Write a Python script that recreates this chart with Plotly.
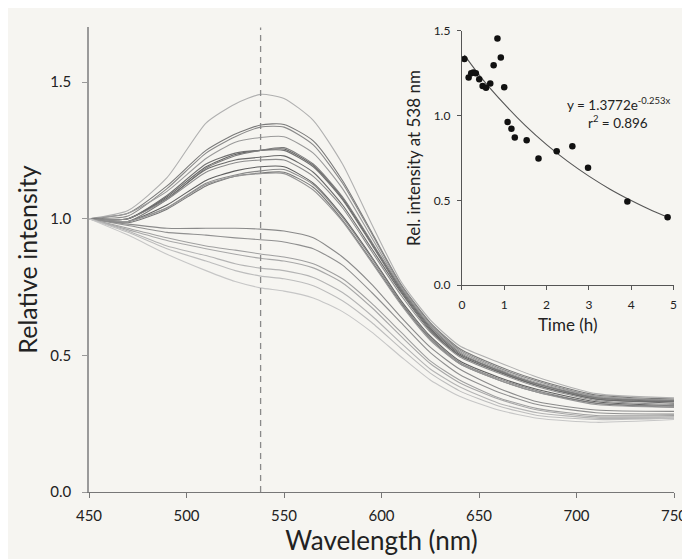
import plotly.graph_objects as go

# ---------------- data ----------------
wavelengths = [450, 470, 490, 510, 525, 538, 550, 565, 580, 595, 610, 625, 640, 660, 680, 710, 750]

spec_a = [1.00, 1.03, 1.15, 1.35, 1.42, 1.455, 1.44, 1.36, 1.20, 0.98, 0.77, 0.63, 0.535, 0.475, 0.42, 0.36, 0.345]
spec_b = [1.00, 1.02, 1.12, 1.25, 1.31, 1.343, 1.345, 1.285, 1.14, 0.95, 0.76, 0.62, 0.525, 0.46, 0.41, 0.355, 0.34]
spec_c = [1.00, 1.01, 1.11, 1.24, 1.30, 1.335, 1.335, 1.27, 1.13, 0.945, 0.755, 0.615, 0.52, 0.455, 0.405, 0.35, 0.335]
spec_d = [1.00, 1.02, 1.10, 1.22, 1.28, 1.297, 1.30, 1.24, 1.11, 0.93, 0.75, 0.61, 0.515, 0.45, 0.40, 0.35, 0.335]
spec_e = [1.00, 1.00, 1.08, 1.19, 1.235, 1.25, 1.255, 1.195, 1.075, 0.91, 0.74, 0.60, 0.505, 0.445, 0.395, 0.345, 0.33]
spec_f = [1.00, 1.00, 1.085, 1.20, 1.24, 1.25, 1.25, 1.19, 1.07, 0.905, 0.735, 0.595, 0.50, 0.44, 0.39, 0.34, 0.33]
spec_g = [1.00, 0.99, 1.07, 1.185, 1.23, 1.25, 1.26, 1.20, 1.08, 0.915, 0.745, 0.605, 0.51, 0.445, 0.395, 0.345, 0.335]
spec_h = [1.00, 1.00, 1.075, 1.18, 1.215, 1.225, 1.23, 1.17, 1.05, 0.89, 0.73, 0.59, 0.50, 0.44, 0.39, 0.34, 0.325]
spec_i = [1.00, 1.00, 1.07, 1.17, 1.205, 1.215, 1.215, 1.155, 1.04, 0.88, 0.72, 0.585, 0.495, 0.435, 0.385, 0.335, 0.32]
spec_j = [1.00, 0.99, 1.05, 1.14, 1.175, 1.19, 1.19, 1.13, 1.01, 0.86, 0.70, 0.57, 0.48, 0.42, 0.375, 0.33, 0.315]
spec_k = [1.00, 0.99, 1.04, 1.13, 1.16, 1.175, 1.18, 1.125, 1.005, 0.855, 0.695, 0.565, 0.475, 0.415, 0.37, 0.325, 0.315]
spec_l = [1.00, 0.985, 1.035, 1.12, 1.155, 1.167, 1.17, 1.115, 0.995, 0.845, 0.69, 0.56, 0.47, 0.41, 0.365, 0.325, 0.31]
spec_m = [1.00, 0.99, 1.04, 1.125, 1.155, 1.165, 1.165, 1.105, 0.99, 0.84, 0.685, 0.555, 0.47, 0.41, 0.365, 0.32, 0.31]
spec_n = [1.00, 0.98, 0.965, 0.965, 0.965, 0.962, 0.955, 0.93, 0.86, 0.76, 0.64, 0.53, 0.45, 0.38, 0.33, 0.30, 0.295]
spec_o = [1.00, 0.975, 0.95, 0.94, 0.93, 0.923, 0.915, 0.89, 0.83, 0.73, 0.62, 0.51, 0.43, 0.365, 0.32, 0.29, 0.285]
spec_p = [1.00, 0.965, 0.93, 0.90, 0.885, 0.871, 0.86, 0.835, 0.78, 0.69, 0.585, 0.48, 0.41, 0.345, 0.305, 0.28, 0.28]
spec_q = [1.00, 0.96, 0.92, 0.89, 0.87, 0.855, 0.845, 0.82, 0.765, 0.675, 0.57, 0.47, 0.40, 0.34, 0.30, 0.275, 0.275]
spec_r = [1.00, 0.955, 0.90, 0.865, 0.835, 0.819, 0.81, 0.785, 0.73, 0.645, 0.545, 0.45, 0.385, 0.325, 0.29, 0.27, 0.27]
spec_s = [1.00, 0.95, 0.89, 0.845, 0.81, 0.79, 0.78, 0.755, 0.70, 0.62, 0.525, 0.435, 0.37, 0.315, 0.28, 0.265, 0.27]
spec_t = [1.00, 0.94, 0.87, 0.81, 0.77, 0.747, 0.735, 0.71, 0.66, 0.585, 0.495, 0.41, 0.35, 0.30, 0.27, 0.255, 0.265]

spectra = [spec_a, spec_b, spec_c, spec_d, spec_e, spec_f, spec_g, spec_h, spec_i, spec_j,
           spec_k, spec_l, spec_m, spec_n, spec_o, spec_p, spec_q, spec_r, spec_s, spec_t]
spectra_colors = ["#b0b0b0", "#7a7a7a", "#8a8a8a", "#9a9a9a", "#656565", "#707070", "#7c7c7c",
                  "#6a6a6a", "#8c8c8c", "#5f5f5f", "#8a8a8a", "#777777", "#969696",
                  "#8a8a8a", "#909090", "#a0a0a0", "#a8a8a8", "#b4b4b4", "#bdbdbd", "#c6c6c6"]

marker_wavelength = 538

time_h = [0.06, 0.16, 0.22, 0.27, 0.33, 0.41, 0.49, 0.57, 0.67, 0.75, 0.84, 0.92, 1.00,
          1.08, 1.17, 1.25, 1.53, 1.81, 2.24, 2.61, 2.98, 3.91, 4.86]
rel_int_538 = [1.335, 1.225, 1.25, 1.255, 1.25, 1.215, 1.175, 1.165, 1.19, 1.297, 1.455, 1.343,
               1.167, 0.962, 0.923, 0.871, 0.855, 0.747, 0.79, 0.819, 0.693, 0.494, 0.40]

fit_time = [0.06, 0.5, 1.0, 1.5, 2.0, 2.5, 3.0, 3.5, 4.0, 4.5, 4.86]
fit_values = [1.357, 1.211, 1.069, 0.941, 0.829, 0.730, 0.643, 0.566, 0.499, 0.439, 0.402]

main_xticks = [450, 500, 550, 600, 650, 700, 750]
main_yticks = [0.0, 0.5, 1.0, 1.5]
main_ytick_text = ["0.0", "0.5", "1.0", "1.5"]
inset_xticks = [0, 1, 2, 3, 4, 5]
inset_yticks = [0.0, 0.5, 1.0, 1.5]

# ---------------- figure ----------------
FONT = "Lato"
TXT = "#222222"
fig = go.Figure()

for spec, col in zip(spectra, spectra_colors):
    fig.add_trace(go.Scatter(x=wavelengths, y=spec, mode="lines",
                             line=dict(color=col, width=1.1, shape="spline", smoothing=0.6),
                             hoverinfo="skip", showlegend=False, xaxis="x", yaxis="y"))

fig.add_trace(go.Scatter(x=[marker_wavelength, marker_wavelength], y=[0, 1.7], mode="lines",
                         line=dict(color="#8a8a8a", width=1.3, dash="6px,5px"),
                         hoverinfo="skip", showlegend=False, xaxis="x", yaxis="y"))

fig.add_trace(go.Scatter(x=fit_time, y=fit_values, mode="lines",
                         line=dict(color="#555555", width=1.1, shape="spline"),
                         showlegend=False, xaxis="x2", yaxis="y2"))
fig.add_trace(go.Scatter(x=time_h, y=rel_int_538, mode="markers",
                         marker=dict(color="#111111", size=6.5),
                         showlegend=False, xaxis="x2", yaxis="y2"))

fig.update_layout(
    width=690, height=559,
    margin=dict(l=81, r=18, t=11, b=75),
    paper_bgcolor="#f6f5f1", plot_bgcolor="rgba(0,0,0,0)",
    font=dict(family=FONT, color=TXT),
    xaxis=dict(range=[450, 750], tickvals=main_xticks, ticks="outside", ticklen=5,
               tickcolor="#777777", showline=True, linecolor="#777777", linewidth=1.2,
               showgrid=False, zeroline=False, tickfont=dict(size=15, color=TXT),
               ticklabelstandoff=5,
               title=dict(text="Wavelength (nm)", font=dict(size=26, color=TXT), standoff=3)),
    yaxis=dict(range=[0, 1.7014], tickvals=main_yticks, ticktext=main_ytick_text, ticks="outside",
               ticklen=5, tickcolor="#999999", showline=True, linecolor="#9a9a9a", linewidth=1.5,
               showgrid=False, zeroline=False, tickfont=dict(size=15, color=TXT),
               ticklabelstandoff=8,
               title=dict(text="Relative intensity", font=dict(size=25, color=TXT), standoff=6)),
    xaxis2=dict(domain=[0.6374, 0.9992], anchor="y2", range=[0, 5], tickvals=inset_xticks,
                ticks="outside", ticklen=4, tickcolor="#555555", showline=True,
                linecolor="#555555", linewidth=1.1, showgrid=False, zeroline=False,
                tickfont=dict(size=12, color=TXT), ticklabelstandoff=4,
                title=dict(text="Time (h)", font=dict(size=17, color=TXT), standoff=8)),
    yaxis2=dict(domain=[0.445, 0.9915], anchor="x2", range=[0, 1.5], tickvals=inset_yticks,
                tickformat=".1f", ticks="outside", ticklen=4, tickcolor="#555555", showline=True,
                linecolor="#555555", linewidth=1.1, showgrid=False, zeroline=False,
                tickfont=dict(size=12, color=TXT), ticklabelstandoff=4,
                title=dict(text="Rel. intensity at 538 nm", font=dict(size=17, color=TXT),
                           standoff=8)),
    annotations=[
        dict(x=3.69, y=1.07, xref="x2", yref="y2", showarrow=False,
             text="y = 1.3772e<sup>-0.253x</sup>", font=dict(size=13.5, color=TXT)),
        dict(x=3.69, y=0.96, xref="x2", yref="y2", showarrow=False,
             text="r<sup>2</sup> = 0.896", font=dict(size=13.5, color=TXT)),
    ],
)

fig.write_html("out.html")
